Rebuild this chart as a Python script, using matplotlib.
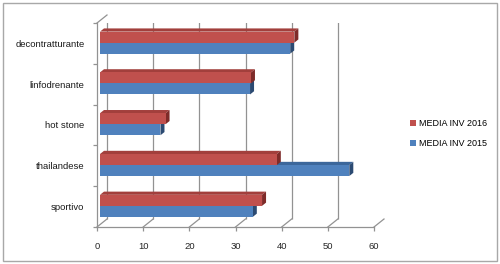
import matplotlib
matplotlib.use("Agg")
import matplotlib.pyplot as plt
import matplotlib.transforms as mtransforms
from matplotlib.patches import Polygon, Rectangle, Patch

# dati
categorie = ["sportivo", "thailandese", "hot stone", "linfodrenante", "decontratturante"]
media_2016 = [35.1, 38.3, 14.2, 32.7, 42.1]
media_2015 = [33.1, 54.0, 13.1, 32.5, 41.2]
serie = ["MEDIA INV 2016", "MEDIA INV 2015"]
x_ticks = [0, 10, 20, 30, 40, 50, 60]

plt.rcParams['font.family'] = ['Liberation Sans', 'DejaVu Sans']

DPI = 100
fig = plt.figure(figsize=(5, 2.64), dpi=DPI)
ax = fig.add_axes([97 / 500, 37 / 264, 277 / 500, 204 / 264])
ax.set_xlim(0, 60)
ax.set_ylim(0, 5)
ax.patch.set_alpha(0)

# px -> unità dati
ux = 60 / 277
uy = 5 / 204
# profondità 3D (pixel): parete di fondo spostata di 10 a destra e 8 in alto
BX, BY = 10, 8
grigio = "#929292"

# griglia sulla parete di fondo
back = ax.transData + mtransforms.ScaledTranslation(BX / DPI, BY / DPI, fig.dpi_scale_trans)
ax.vlines(x_ticks, 0, 5, colors=grigio, lw=0.9, transform=back, zorder=1)
# diagonali del pavimento e del lato sinistro
for xv in x_ticks:
    ax.plot([xv, xv + BX * ux], [0, BY * uy], color=grigio, lw=0.9, zorder=1, clip_on=False)
ax.plot([0, BX * ux], [5, 5 + BY * uy], color=grigio, lw=0.9, zorder=1, clip_on=False)


def barra(v, y0, h, c_front, c_top, c_side):
    d1, d2 = 0.3, 0.7
    fx, fy = BX * d1 * ux, BY * d1 * uy
    bx, by = BX * d2 * ux, BY * d2 * uy
    x0, x1 = fx, fx + v
    ya, yb = y0 + fy, y0 + h + fy
    dx, dy = bx - fx, by - fy
    top = [(x0, yb), (x1, yb), (x1 + dx, yb + dy), (x0 + dx, yb + dy)]
    side = [(x1, ya), (x1, yb), (x1 + dx, yb + dy), (x1 + dx, ya + dy)]
    ax.add_patch(Polygon(top, closed=True, fc=c_top, ec="none", zorder=3))
    ax.add_patch(Polygon(side, closed=True, fc=c_side, ec="none", zorder=3))
    ax.add_patch(Rectangle((x0, ya), v, h, fc=c_front, ec="none", zorder=3))


h = 0.27
for i in range(len(categorie)):
    c = i + 0.46
    barra(media_2015[i], c - h, h, "#4F81BD", "#3C679B", "#2B4A72")
    barra(media_2016[i], c, h, "#C0504D", "#A23F3C", "#7E2B29")

# assi frontali
for s in ["top", "right"]:
    ax.spines[s].set_visible(False)
for s in ["left", "bottom"]:
    ax.spines[s].set_color(grigio)
    ax.spines[s].set_linewidth(0.9)
ax.set_xticks(x_ticks)
ax.set_xticklabels([str(t) for t in x_ticks], fontsize=6.8, color="#262626")
ax.set_yticks([i + 0.5 for i in range(len(categorie))])
ax.set_yticklabels(categorie, fontsize=6.8, color="#1a1a1a")
ax.set_yticks(range(len(categorie) + 1), minor=True)
ax.tick_params(axis="y", which="major", length=0, pad=9)
ax.tick_params(axis="y", which="minor", length=3, color=grigio, width=0.9)
ax.tick_params(axis="x", length=3, color=grigio, width=0.9, pad=8)

# legenda
handles = [Patch(fc="#C0504D"), Patch(fc="#4F81BD")]
fig.legend(handles, serie, loc="upper left", bbox_to_anchor=(402 / 500, 1 - 111 / 264),
           frameon=False, fontsize=6.5, handlelength=0.6, handleheight=0.6,
           handletextpad=0.4, labelspacing=1.25)

# cornice esterna
fig.add_artist(Rectangle((3 / 500, 3 / 264), 494 / 500, 258 / 264, transform=fig.transFigure,
                         fill=False, ec="#a8a8a8", lw=1.0))

fig.savefig("out.png", dpi=DPI)
